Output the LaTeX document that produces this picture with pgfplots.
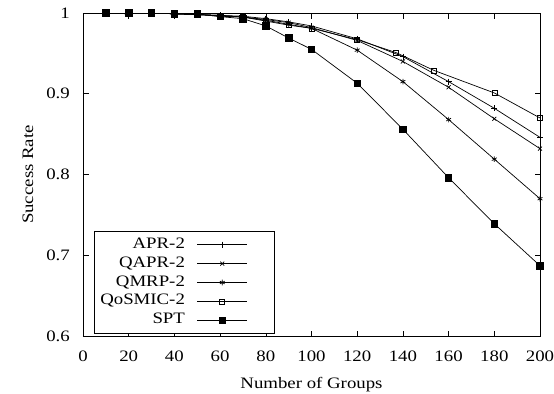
\documentclass[border=0pt]{standalone}
\usepackage{pgfplots}
\pgfplotsset{compat=1.18}
\usepackage{fontspec}
\setmainfont{Liberation Serif}[FakeStretch=1.18]
\begin{document}
\fontsize{16}{19}\selectfont
\begin{tikzpicture}
\begin{axis}[
  name=ax,
  scale only axis,
  width=457bp, height=323bp,
  xmin=0, xmax=200, ymin=0.6, ymax=1,
  xtick={0,20,...,200},
  ytick={0.6,0.7,0.8,0.9,1},
  yticklabels={0.6,0.7,0.8,0.9,1},
  /pgf/number format/assume math mode=true,
  tick style={black, line width=0.6bp},
  major tick length=5.5bp,
  axis line style={line width=0.8bp},
  xlabel={Number of Groups},
  ylabel={Success Rate},
  tick label style={font=\fontsize{16}{19}\selectfont},
  label style={font=\fontsize{16}{19}\selectfont},
  xticklabel style={anchor=base, inner sep=0pt, yshift=-25.7bp},
  yticklabel style={anchor=east, inner sep=0pt, xshift=-13bp},
  xlabel style={at={(axis description cs:0.5,-0.161)}, anchor=base},
  ylabel style={at={(axis description cs:-0.1094,0.5)}, anchor=base},
  legend cell align=right,
  legend plot pos=right,
  legend style={at={(0.024,0.006)}, anchor=south west, draw=black, line width=0.6bp,
    font=\fontsize{16}{19}\selectfont, row sep=0pt, column sep=12bp,
    inner xsep=6bp, inner ysep=4bp,
    nodes={inner sep=0pt, text height=13bp, text depth=5.9bp}},
  legend image code/.code={\draw[mark repeat=2,mark phase=2] plot coordinates {(0bp,0bp) (25bp,0bp) (50bp,0bp)};\path[draw=none,fill=none] (0bp,0bp) -- (71bp,0bp);},
  every axis plot/.append style={black, line width=0.7bp},
]
\addplot[mark=+, mark size=3bp] coordinates {(10,1) (20,0.999) (30,1) (40,0.999) (50,0.998) (60,0.997) (70,0.996) (80,0.993) (90,0.989) (100,0.984) (120,0.968) (140,0.946) (160,0.915) (180,0.882) (200,0.846)};
\addlegendentry{APR-2}
\addplot[mark=x, mark size=2.8bp] coordinates {(10,1) (20,1) (30,1) (40,0.999) (50,0.998) (60,0.997) (70,0.995) (80,0.992) (90,0.988) (100,0.982) (120,0.966) (140,0.940) (160,0.908) (180,0.869) (200,0.832)};
\addlegendentry{QAPR-2}
\addplot[mark=asterisk, mark size=2.8bp] coordinates {(10,1) (20,1) (30,1) (40,0.999) (50,0.998) (60,0.996) (70,0.995) (80,0.991) (90,0.986) (100,0.981) (120,0.954) (140,0.915) (160,0.868) (180,0.819) (200,0.770)};
\addlegendentry{QMRP-2}
\addplot[mark=square, mark size=2.5bp, mark options={line width=0.6bp}] coordinates {(10,1) (20,1) (30,1) (40,0.999) (50,0.998) (60,0.997) (70,0.995) (80,0.990) (90,0.985) (100,0.981) (120,0.967) (137,0.951) (153.5,0.929) (180,0.901) (200,0.870)};
\addlegendentry{QoSMIC-2}
\addplot[mark=square*, mark size=3.2bp] coordinates {(10,1) (20,1) (30,1) (40,0.999) (50,0.999) (60,0.9955) (70,0.993) (80,0.984) (90,0.969) (100,0.955) (120,0.913) (140,0.856) (160,0.796) (180,0.739) (200,0.687)};
\addlegendentry{SPT}
\end{axis}
\pgfresetboundingbox
\path[use as bounding box] ([xshift=-83bp,yshift=-58bp]ax.south west) rectangle ([xshift=14bp,yshift=13bp]ax.north east);
\end{tikzpicture}
\end{document}
